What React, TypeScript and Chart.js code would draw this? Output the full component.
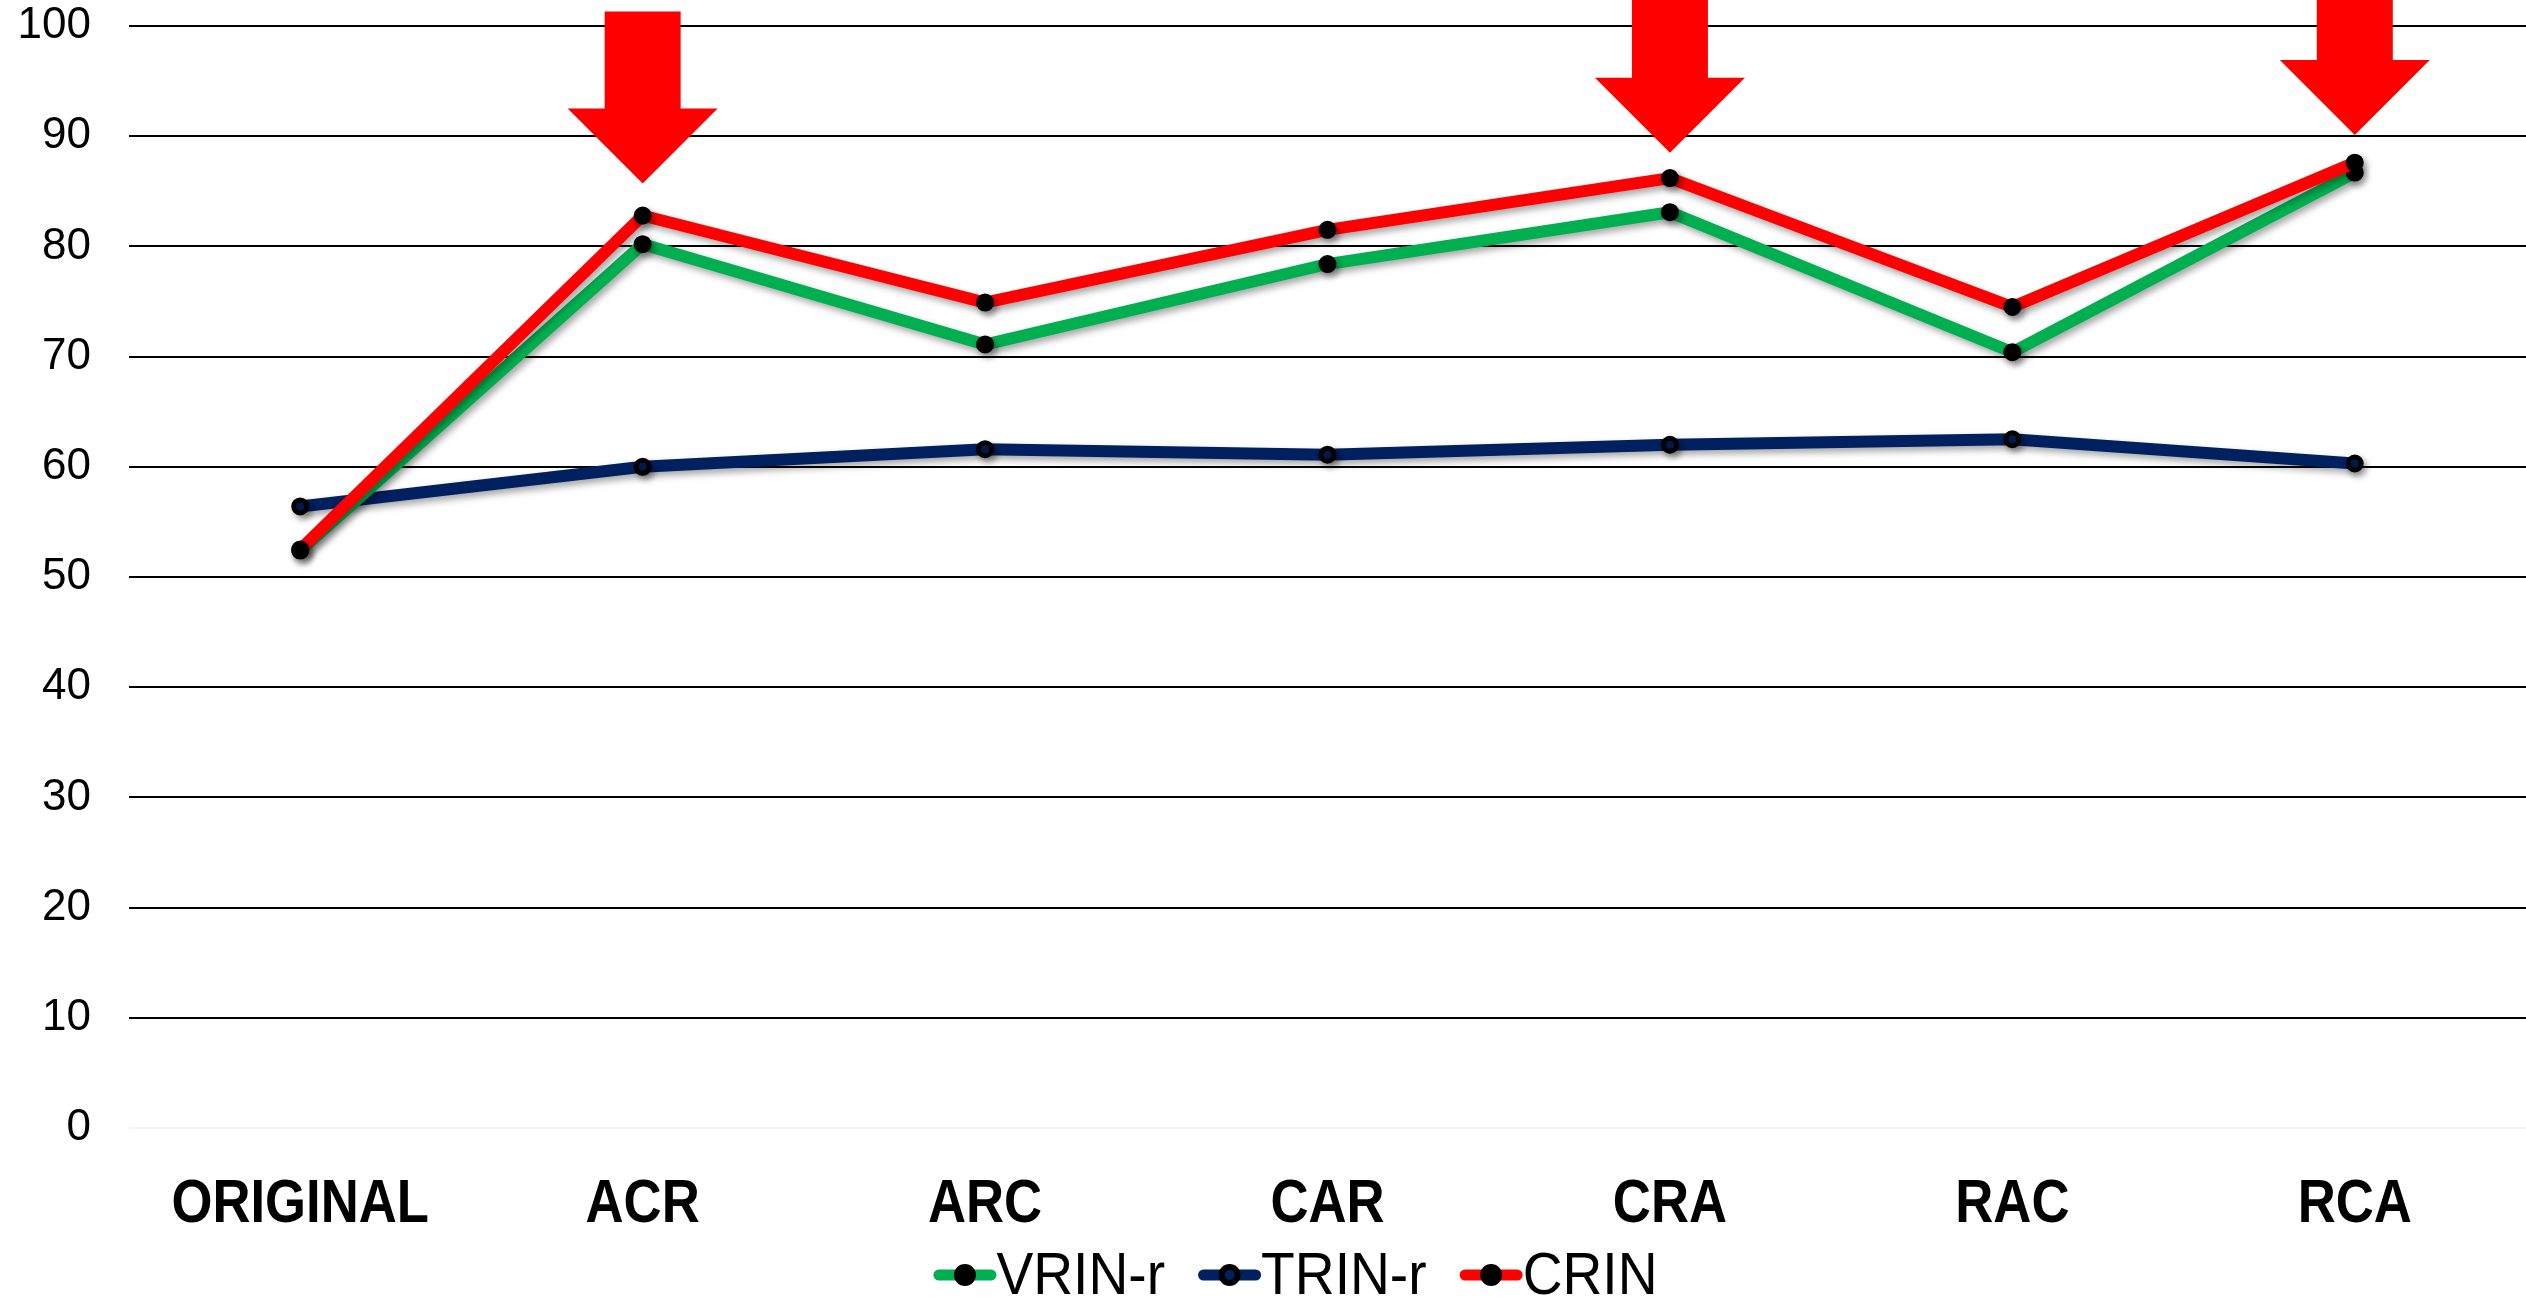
import React, { useEffect, useRef } from "react";
import { Chart, registerables } from "chart.js";

Chart.register(...registerables);

// Categories (reading orders) along the x axis
const categories = ["ORIGINAL", "ACR", "ARC", "CAR", "CRA", "RAC", "RCA"];

// Series values
const vrinR = [52.4, 80.2, 71.1, 78.4, 83.1, 70.4, 86.7];
const trinR = [56.4, 60.0, 61.6, 61.1, 62.0, 62.5, 60.3];
const crin = [52.5, 82.8, 74.9, 81.5, 86.2, 74.5, 87.6];

// Series names and colours
const seriesNames = ["VRIN-r", "TRIN-r", "CRIN"];
const seriesColors = ["#00B050", "#002060", "#FF0000"];

// Y axis range
const yMin = 0;
const yMax = 100;
const yStep = 10;

// Highlight arrows: category and the value where each arrow tip points
const arrowCategories = ["ACR", "CRA", "RCA"];
const arrowTipValues = [85.7, 88.5, 90.1];

const SANS = '"Liberation Sans", Arial, sans-serif';
// Horizontal squeeze giving the narrow look of the category and legend lettering
const NARROW = 0.85;

// Soft drop shadow under each line series
const lineShadowPlugin = {
  id: "lineShadow",
  beforeDatasetDraw(chart: any) {
    const ctx = chart.ctx;
    ctx.save();
    ctx.shadowColor = "rgba(0,0,0,0.35)";
    ctx.shadowBlur = 7;
    ctx.shadowOffsetX = 3;
    ctx.shadowOffsetY = 4;
  },
  afterDatasetDraw(chart: any) {
    chart.ctx.restore();
  },
};

// Narrow bold category labels placed at the x scale's tick positions
const narrowTicksPlugin = {
  id: "narrowTicks",
  afterDraw(chart: any) {
    const { ctx, chartArea } = chart;
    const xs = chart.scales.x;
    const y = chartArea.bottom + 77;
    ctx.save();
    ctx.font = `bold 62px ${SANS}`;
    ctx.fillStyle = "#000";
    ctx.textAlign = "center";
    ctx.textBaseline = "middle";
    xs.ticks.forEach((t: any, i: number) => {
      const x = xs.getPixelForTick(i);
      ctx.save();
      ctx.translate(x, y);
      ctx.scale(NARROW, 1);
      ctx.fillText(xs.getLabelForValue(t.value), 0, 0);
      ctx.restore();
    });
    ctx.restore();
  },
};

// Red block arrows pointing down at selected categories
const arrowPlugin = {
  id: "downArrows",
  afterDatasetsDraw(chart: any) {
    const { ctx, scales } = chart;
    const xs = scales.x;
    const ys = scales.y;
    const headH = 75;
    const headHalf = 75;
    const shaftHalf = 38;
    const shaftLen = 97;
    ctx.save();
    ctx.fillStyle = "#FF0000";
    arrowCategories.forEach((cat, i) => {
      const x = xs.getPixelForValue(categories.indexOf(cat));
      const tip = ys.getPixelForValue(arrowTipValues[i]);
      const base = tip - headH;
      const top = base - shaftLen;
      ctx.beginPath();
      ctx.moveTo(x, tip);
      ctx.lineTo(x + headHalf, base);
      ctx.lineTo(x + shaftHalf, base);
      ctx.lineTo(x + shaftHalf, top);
      ctx.lineTo(x - shaftHalf, top);
      ctx.lineTo(x - shaftHalf, base);
      ctx.lineTo(x - headHalf, base);
      ctx.closePath();
      ctx.fill();
    });
    ctx.restore();
  },
};

// Legend row: short line with a dot, then the series name
const legendPlugin = {
  id: "lineLegend",
  afterDraw(chart: any) {
    const { ctx, chartArea } = chart;
    const y = chart.height - 28;
    const markerW = 63;
    const gap = 33;
    const legendScale = 0.92;
    ctx.save();
    ctx.font = `60px ${SANS}`;
    const widths = seriesNames.map((n) => ctx.measureText(n).width * legendScale);
    const total =
      widths.reduce((a, w) => a + w + markerW, 0) + gap * (seriesNames.length - 1);
    const center = (chartArea.left + chartArea.right) / 2 - 32;
    let x = center - total / 2;
    seriesNames.forEach((name, i) => {
      ctx.strokeStyle = seriesColors[i];
      ctx.lineWidth = 11;
      ctx.lineCap = "round";
      ctx.beginPath();
      ctx.moveTo(x + 5.5, y);
      ctx.lineTo(x + markerW - 5.5, y);
      ctx.stroke();
      const cx = x + markerW / 2;
      ctx.beginPath();
      ctx.arc(cx, y, 11, 0, Math.PI * 2);
      ctx.fillStyle = "#000";
      ctx.fill();
      if (i === 1) {
        ctx.beginPath();
        ctx.arc(cx, y, 5, 0, Math.PI * 2);
        ctx.fillStyle = seriesColors[i];
        ctx.fill();
      }
      ctx.save();
      ctx.translate(x + markerW, y + 2);
      ctx.scale(legendScale, 1);
      ctx.fillStyle = "#000";
      ctx.textAlign = "left";
      ctx.textBaseline = "middle";
      ctx.fillText(name, 0, 0);
      ctx.restore();
      x += markerW + widths[i] + gap;
    });
    ctx.restore();
  },
};

export default function App() {
  const canvasRef = useRef<HTMLCanvasElement | null>(null);

  useEffect(() => {
    if (!canvasRef.current) return;
    const values = [vrinR, trinR, crin];
    const drawOrder = [1, 2, 0];
    const datasets = values.map((data, i) => ({
      label: seriesNames[i],
      data,
      borderColor: seriesColors[i],
      backgroundColor: seriesColors[i],
      borderWidth: 12,
      tension: 0,
      fill: false,
      order: drawOrder[i],
      pointRadius: i === 1 ? 6.5 : 7.5,
      pointBorderWidth: i === 1 ? 5 : 3,
      pointBackgroundColor: i === 1 ? seriesColors[i] : "#000",
      pointBorderColor: "#000",
      pointHoverRadius: 7,
    }));

    const chart = new Chart(canvasRef.current, {
      type: "line",
      data: { labels: categories, datasets },
      options: {
        animation: false,
        responsive: true,
        maintainAspectRatio: false,
        layout: { autoPadding: false, padding: { top: 26, left: 0, right: 0, bottom: 0 } },
        plugins: {
          legend: { display: false },
          tooltip: { enabled: false },
        },
        scales: {
          x: {
            type: "category",
            offset: true,
            grid: { display: false },
            border: { display: false },
            ticks: {
              color: "rgba(0,0,0,0)",
              autoSkip: false,
              maxRotation: 0,
              padding: 46,
              font: { family: SANS, size: 62, weight: "bold", lineHeight: 1 },
            },
            afterFit: (s: any) => {
              s.height = 175;
              s.paddingLeft = 0;
              s.paddingRight = 0;
            },
          },
          y: {
            min: yMin,
            max: yMax,
            ticks: {
              stepSize: yStep,
              color: "#000",
              padding: 38,
              font: { family: SANS, size: 44, lineHeight: 1 },
            },
            grid: {
              drawTicks: false,
              lineWidth: 2,
              color: (c: any) => (c.tick && c.tick.value === 0 ? "#f3f3f3" : "#000"),
            },
            border: { display: false },
            afterFit: (s: any) => {
              s.width = 129;
              s.paddingTop = 0;
              s.paddingBottom = 0;
            },
          },
        },
      },
      plugins: [lineShadowPlugin, arrowPlugin, narrowTicksPlugin, legendPlugin],
    });

    return () => chart.destroy();
  }, []);

  return (
    <div
      style={{
        position: "fixed",
        left: 0,
        top: 0,
        width: "2526px",
        height: "1303px",
        background: "#fff",
      }}
    >
      <canvas ref={canvasRef} />
    </div>
  );
}
